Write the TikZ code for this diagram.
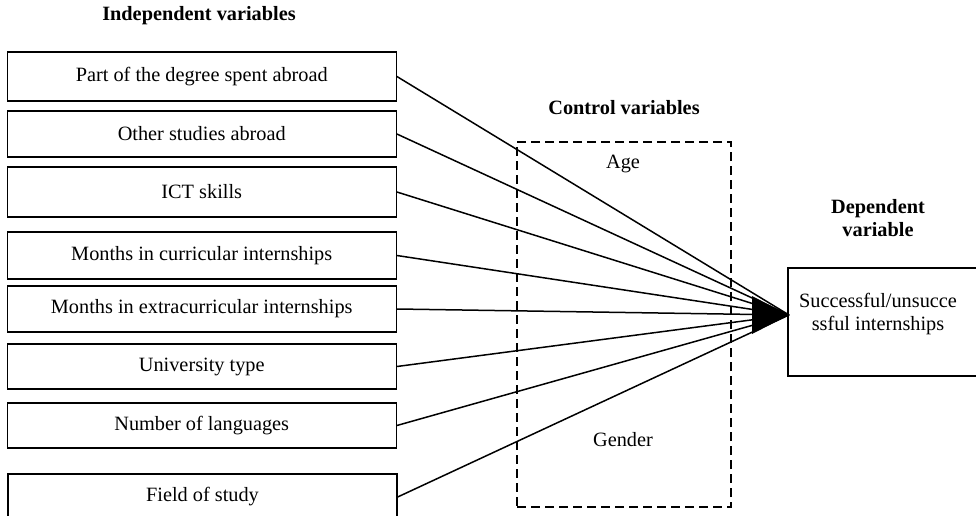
\documentclass[tikz,border=0pt]{standalone}
\usepackage{fontspec}
\setmainfont{Liberation Serif}
\begin{document}
\begin{tikzpicture}[x=1pt,y=-1pt,
  every node/.style={font=\fontsize{20.3}{23.5}\selectfont},
  ivbox/.style={draw, line width=1.3pt, minimum width=389pt, inner sep=0pt, anchor=center},
  heading/.style={font=\fontsize{20.3}{23.5}\selectfont\bfseries, align=center},
  conn/.style={line width=1.5pt},
  ctrl/.style={draw, line width=1.2pt, dash pattern=on 9pt off 5pt}]
\useasboundingbox (0,0) rectangle (976,516);
\fill[white] (0,0) rectangle (976,516);

\node[heading] (hind) at (199,16) {Independent variables};
\node[heading] (hctrl) at (624,108) {Control variables};
\node[heading] (hdep) at (878,218) {Dependent\\variable};

\node[ivbox, minimum height=49pt] (b1) at (201.75,76.5) {Part of the degree spent abroad};
\node[ivbox, minimum height=46pt] (b2) at (201.75,134) {Other studies abroad};
\node[ivbox, minimum height=50pt] (b3) at (201.75,192) {ICT skills};
\node[ivbox, minimum height=47pt] (b4) at (201.75,255.5) {Months in curricular internships};
\node[ivbox, minimum height=46pt] (b5) at (201.75,309) {Months in extracurricular internships};
\node[ivbox, minimum height=45pt] (b6) at (201.75,366.5) {University type};
\node[ivbox, minimum height=45pt] (b7) at (201.75,425.5) {Number of languages};
\node[ivbox, minimum height=46pt] (b8) at (202.5,497) {Field of study};

\node[ctrl, minimum width=214pt, minimum height=365pt, inner sep=0pt] (cbox) at (624,324.5) {};
\node (age) at (623,163.5) {Age};
\node (gender) at (623,440) {Gender};

\node[draw, line width=1.3pt, minimum width=190pt, minimum height=108pt, inner sep=0pt] (dep) at (883,322) {};
\node[align=center] (deptext) at (878,314) {Successful/unsucce\\ssful internships};

\coordinate (tip) at (789,315);
\foreach \b in {b1,b2,b3,b4,b5,b6,b7,b8} {
  \draw[conn] (\b.east) -- (tip);
}
\fill (tip) -- ++(-37,-19) -- ++(0,38) -- cycle;
\end{tikzpicture}
\end{document}
